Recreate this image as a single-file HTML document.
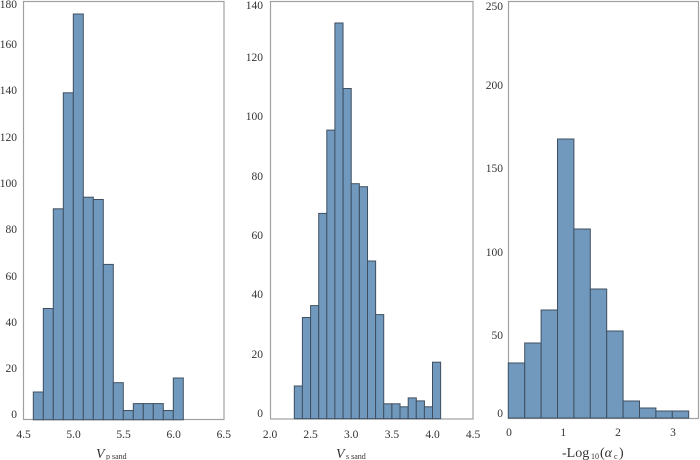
<!DOCTYPE html>
<html><head><meta charset="utf-8"><style>
html,body{margin:0;padding:0;background:#fff;}
svg{display:block;font-family:"Liberation Serif",serif;}
text{fill:#333;font-size:11.5px;}
.bar{fill:#7099bd;stroke:#3f4f60;stroke-width:1;}
.box{fill:none;stroke:#a0a0a0;stroke-width:1.2;}
</style></head><body>
<svg id="s" width="700" height="460" viewBox="0 0 700 460" xmlns="http://www.w3.org/2000/svg">
<g id="g1"></g>
<!-- panel 1 -->
<rect class="box" x="23.5" y="1.5" width="200.5" height="418"/>
<g class="bar">
<rect x="33.3" y="392" width="10" height="27.8"/>
<rect x="43.3" y="308.5" width="10" height="111.3"/>
<rect x="53.3" y="208.8" width="10" height="211"/>
<rect x="63.3" y="92.8" width="10" height="327"/>
<rect x="73.3" y="14" width="10" height="405.8"/>
<rect x="83.3" y="197.2" width="10" height="222.6"/>
<rect x="93.3" y="199.5" width="10" height="220.3"/>
<rect x="103.3" y="264.4" width="10" height="155.4"/>
<rect x="113.3" y="382.7" width="10" height="37.1"/>
<rect x="123.3" y="410.5" width="10" height="9.3"/>
<rect x="133.3" y="403.6" width="10" height="16.2"/>
<rect x="143.3" y="403.6" width="10" height="16.2"/>
<rect x="153.3" y="403.6" width="10" height="16.2"/>
<rect x="163.3" y="410.5" width="10" height="9.3"/>
<rect x="173.3" y="378" width="10" height="41.8"/>
</g>
<g text-anchor="end">
<text x="17" y="418">0</text><text x="17" y="372">20</text><text x="17" y="326">40</text>
<text x="17" y="280">60</text><text x="17" y="233">80</text><text x="17" y="187">100</text>
<text x="17" y="141">120</text><text x="17" y="94">140</text><text x="17" y="48">160</text>
<text x="17" y="8">180</text>
</g>
<g text-anchor="middle">
<text x="23.5" y="438">4.5</text><text x="73.5" y="438">5.0</text><text x="123.6" y="438">5.5</text>
<text x="173.7" y="438">6.0</text><text x="223.8" y="438">6.5</text>
</g>
<text x="96" y="458" style="font-size:14px;font-style:italic">V</text>
<text x="106" y="459" style="font-size:8px">p  sand</text>

<!-- panel 2 -->
<rect class="box" x="270.5" y="1.5" width="202.5" height="417.5"/>
<g class="bar">
<rect x="294.3" y="386" width="8.13" height="32.7"/>
<rect x="302.4" y="317.5" width="8.13" height="101.2"/>
<rect x="310.6" y="305.6" width="8.13" height="113.1"/>
<rect x="318.7" y="213.4" width="8.13" height="205.3"/>
<rect x="326.8" y="130.1" width="8.13" height="288.6"/>
<rect x="334.9" y="23" width="8.13" height="395.7"/>
<rect x="343.1" y="88.5" width="8.13" height="330.2"/>
<rect x="351.2" y="183.7" width="8.13" height="235"/>
<rect x="359.4" y="186.7" width="8.13" height="232"/>
<rect x="367.5" y="261" width="8.13" height="157.7"/>
<rect x="375.6" y="314.6" width="8.13" height="104.1"/>
<rect x="383.7" y="403.8" width="8.13" height="14.9"/>
<rect x="391.9" y="403.8" width="8.13" height="14.9"/>
<rect x="400" y="406.8" width="8.13" height="11.9"/>
<rect x="408.2" y="397.9" width="8.13" height="20.8"/>
<rect x="416.3" y="400.9" width="8.13" height="17.8"/>
<rect x="424.4" y="406.8" width="8.13" height="11.9"/>
<rect x="432.5" y="362.2" width="8.13" height="56.5"/>
</g>
<g text-anchor="end">
<text x="263" y="417">0</text><text x="263" y="358">20</text><text x="263" y="298">40</text>
<text x="263" y="239">60</text><text x="263" y="180">80</text><text x="263" y="120">100</text>
<text x="263" y="61">120</text><text x="263" y="9">140</text>
</g>
<g text-anchor="middle">
<text x="270" y="438">2.0</text><text x="310.6" y="438">2.5</text><text x="351.2" y="438">3.0</text>
<text x="391.9" y="438">3.5</text><text x="432.5" y="438">4.0</text><text x="473" y="438">4.5</text>
</g>
<text x="336" y="458" style="font-size:14px;font-style:italic">V</text>
<text x="346" y="459" style="font-size:8px">s  sand</text>

<!-- panel 3 -->
<rect class="box" x="508.5" y="1.5" width="190" height="417"/>
<g class="bar">
<rect x="508.3" y="363" width="16.4" height="55"/>
<rect x="524.7" y="343" width="16.4" height="75"/>
<rect x="541.1" y="310" width="16.4" height="108"/>
<rect x="557.5" y="139" width="16.4" height="279"/>
<rect x="573.9" y="229" width="16.4" height="189"/>
<rect x="590.3" y="289" width="16.4" height="129"/>
<rect x="606.7" y="331" width="16.4" height="87"/>
<rect x="623.1" y="401" width="16.4" height="17"/>
<rect x="639.5" y="408" width="16.4" height="10"/>
<rect x="655.9" y="411" width="16.4" height="7"/>
<rect x="672.3" y="411" width="16.4" height="7"/>
</g>
<g text-anchor="end">
<text x="503" y="417">0</text><text x="503" y="339">50</text><text x="503" y="256">100</text>
<text x="503" y="172">150</text><text x="503" y="89">200</text><text x="503" y="10">250</text>
</g>
<g text-anchor="middle">
<text x="509" y="436">0</text><text x="563.3" y="436">1</text><text x="618" y="436">2</text>
<text x="673" y="436">3</text>
</g>
<text x="562" y="457" style="font-size:14px">-Log</text>
<text x="591" y="459" style="font-size:8px">10</text>
<text x="600" y="457" style="font-size:14px">(<tspan font-style="italic">α</tspan></text>
<text x="614" y="459" style="font-size:8px">c</text>
<text x="619" y="457" style="font-size:14px">)</text>
</svg>
</body></html>
